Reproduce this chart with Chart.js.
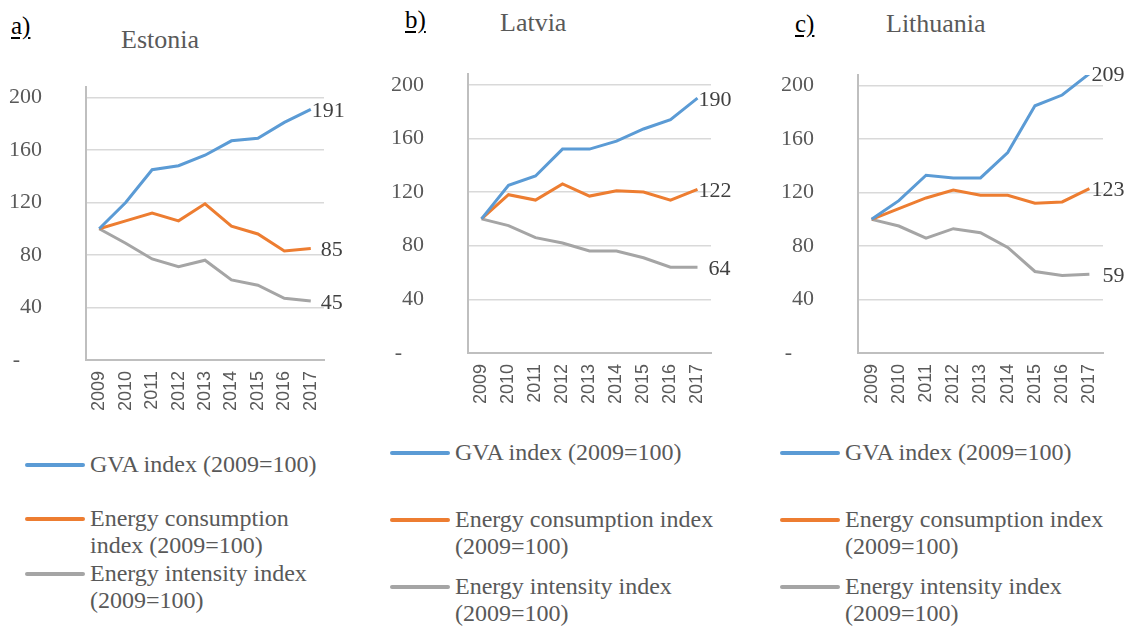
<!DOCTYPE html>
<html>
<head>
<meta charset="utf-8">
<script src="https://cdn.jsdelivr.net/npm/chart.js@4"></script>
<style>
  html, body { margin: 0; padding: 0; background: #fff; }
  #page { position: relative; width: 1135px; height: 626px; overflow: hidden; font-family: "Liberation Serif", serif; }
  canvas { position: absolute; }
  .tag { position: absolute; color: #000; font-size: 25px; text-decoration: underline; text-underline-offset: 3px; line-height: 1; }
  .title { position: absolute; color: #595959; font-size: 26px; line-height: 1; }
  .leg { position: absolute; color: #595959; font-size: 24px; line-height: 27px; white-space: nowrap; }
  .leg .swatch { position: absolute; left: 0; top: 12px; height: 4px; border-radius: 2px; }
</style>
</head>
<body>
<div id="page">
  <div class="tag" style="left:11px;top:13px">a)</div>
  <div class="title" style="left:121px;top:27px">Estonia</div>
  <div class="tag" style="left:405px;top:7px">b)</div>
  <div class="title" style="left:500px;top:10px">Latvia</div>
  <div class="tag" style="left:795px;top:11px">c)</div>
  <div class="title" style="left:886px;top:11px">Lithuania</div>

  <canvas id="est" width="360" height="370" style="left:0;top:60px"></canvas>
  <canvas id="lat" width="360" height="370" style="left:380px;top:50px"></canvas>
  <canvas id="lit" width="365" height="370" style="left:770px;top:50px"></canvas>
</div>
<script>
var years = ['2009', '2010', '2011', '2012', '2013', '2014', '2015', '2016', '2017'];

var estoniaGva  = [100, 120, 145, 148, 156, 167, 169, 181, 191];
var estoniaCons = [100, 106, 112, 106, 119, 102, 96, 83, 85];
var estoniaInt  = [100, 89, 77, 71, 76, 61, 57, 47, 45];

var latviaGva  = [100, 125, 132, 152, 152, 158, 167, 174, 190];
var latviaCons = [100, 118, 114, 126, 117, 121, 120, 114, 122];
var latviaInt  = [100, 95, 86, 82, 76, 76, 71, 64, 64];

var lithuaniaGva  = [100, 114, 133, 131, 131, 150, 185, 193, 209];
var lithuaniaCons = [100, 108, 116, 122, 118, 118, 112, 113, 123];
var lithuaniaInt  = [100, 95, 86, 93, 90, 79, 61, 58, 59];

var yTicks = [0, 40, 80, 120, 160, 200];

var seriesNames = ['GVA index (2009=100)', 'Energy consumption index (2009=100)', 'Energy intensity index (2009=100)'];
var colors = ['#5b9bd5', '#ed7d31', '#a5a5a5'];

// value label at the end of each line
var endLabels = {
  id: 'endLabels',
  afterDatasetsDraw: function(chart) {
    var ctx = chart.ctx;
    ctx.save();
    ctx.font = '22px "Liberation Serif"';
    ctx.fillStyle = '#404040';
    ctx.textBaseline = 'middle';
    ctx.textAlign = 'left';
    chart.data.datasets.forEach(function(ds, i) {
      var pts = chart.getDatasetMeta(i).data;
      var p = pts[pts.length - 1];
      ctx.fillText(String(ds.data[ds.data.length - 1]), p.x + ds.labelDx, p.y + 2);
    });
    ctx.restore();
  }
};

function makeChart(id, gva, cons, inten, box, dx) {
  var sets = [gva, cons, inten].map(function(d, i) {
    return {
      label: seriesNames[i],
      data: d,
      borderColor: colors[i],
      backgroundColor: colors[i],
      borderWidth: 3,
      pointRadius: 0,
      tension: 0,
      labelDx: dx[i]
    };
  });
  return new Chart(document.getElementById(id), {
    type: 'line',
    data: { labels: years, datasets: sets },
    plugins: [endLabels],
    options: {
      responsive: false,
      animation: false,
      layout: { padding: { left: 0, right: box.right, top: box.top, bottom: 0 } },
      plugins: { legend: { display: false }, tooltip: { enabled: false } },
      scales: {
        x: {
          offset: true,
          grid: { display: false, drawTicks: false },
          border: { display: true, color: '#bfbfbf', width: 2 },
          ticks: {
            maxRotation: 90, minRotation: 90, padding: 11,
            color: '#595959', font: { family: 'Liberation Sans', size: 18 }
          },
          afterFit: function(s) { s.height = box.xh; }
        },
        y: {
          min: 0, max: 208,
          afterBuildTicks: function(s) { s.ticks = yTicks.map(function(v) { return { value: v }; }); },
          // invisible tick marks push the labels away from the axis
          grid: { color: '#d9d9d9', lineWidth: 1.5, drawTicks: true, tickLength: 44, tickColor: 'rgba(0,0,0,0)' },
          border: { display: true, color: '#bfbfbf', width: 2 },
          ticks: {
            padding: 0, color: '#595959',
            font: { family: 'Liberation Serif', size: 22 },
            callback: function(v) { return v === 0 ? '-    ' : v; }
          },
          afterFit: function(s) { s.width = box.yw; }
        }
      }
    }
  });
}

makeChart('est', estoniaGva, estoniaCons, estoniaInt, { yw: 86, right: 36, top: 27, xh: 70 }, [1, 10, 10]);
makeChart('lat', latviaGva, latviaCons, latviaInt, { yw: 88, right: 29, top: 24, xh: 67 }, [1, 1, 11]);
makeChart('lit', lithuaniaGva, lithuaniaCons, lithuaniaInt, { yw: 88, right: 32, top: 25, xh: 67 }, [2, 2, 13]);

// html legends below each chart
var legendLines = [
  [['GVA index (2009=100)'], ['Energy consumption', 'index (2009=100)'], ['Energy intensity index', '(2009=100)']],
  [['GVA index (2009=100)'], ['Energy consumption index', '(2009=100)'], ['Energy intensity index', '(2009=100)']],
  [['GVA index (2009=100)'], ['Energy consumption index', '(2009=100)'], ['Energy intensity index', '(2009=100)']]
];
var legendSpots = [
  { x: 25, tops: [465, 519, 574] },
  { x: 390, tops: [453, 520, 587] },
  { x: 780, tops: [453, 520, 587] }
];
var page = document.getElementById('page');
legendLines.forEach(function(items, c) {
  var spot = legendSpots[c];
  items.forEach(function(lines, i) {
    var d = document.createElement('div');
    d.className = 'leg';
    d.style.left = spot.x + 'px';
    d.style.top = (spot.tops[i] - 14) + 'px';
    var sw = document.createElement('span');
    sw.className = 'swatch';
    sw.style.width = '60px';
    sw.style.background = colors[i];
    d.appendChild(sw);
    var t = document.createElement('div');
    t.style.marginLeft = '65px';
    t.innerHTML = lines.join('<br>');
    d.appendChild(t);
    page.appendChild(d);
  });
});
</script>
</body>
</html>
